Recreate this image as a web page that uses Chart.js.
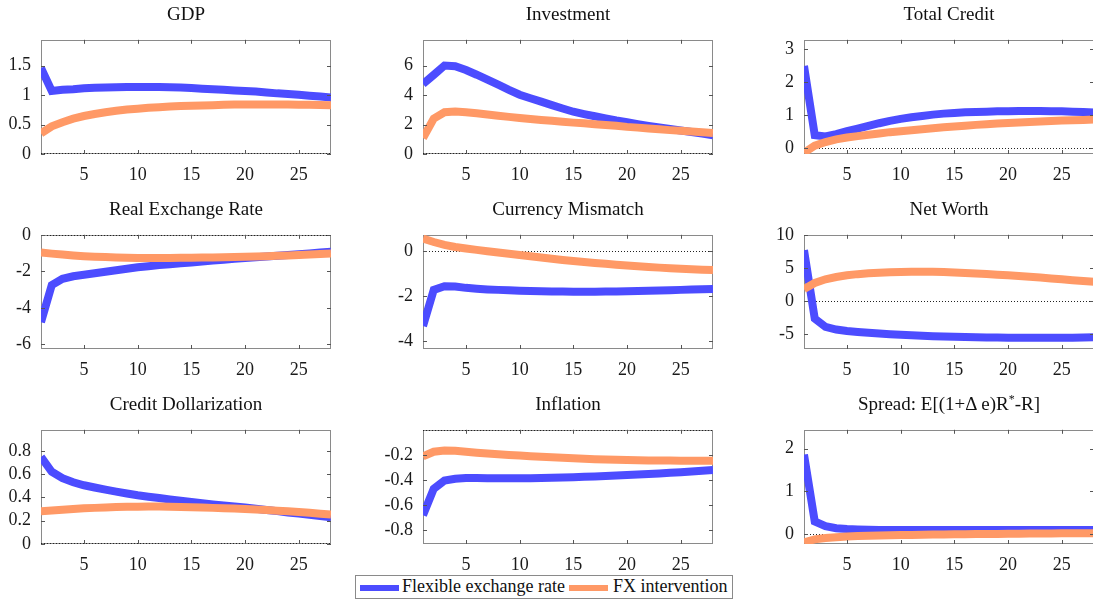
<!DOCTYPE html>
<html><head><meta charset="utf-8">
<script src="https://cdn.jsdelivr.net/npm/chart.js@4.4.1/dist/chart.umd.min.js"></script>
<style>
html,body{margin:0;padding:0;background:#fff;overflow:hidden;width:1093px;height:602px;position:relative;}
canvas{position:absolute;}
.ttl{position:absolute;font-family:'Liberation Serif',serif;font-size:19px;color:#111;text-align:center;white-space:nowrap;line-height:20px;}
.ttl sup{font-size:12px;line-height:0;vertical-align:7px;}
#legend{position:absolute;left:355px;top:575px;width:376px;height:22px;border:1px solid #8a8a8a;background:#fff;font-family:'Liberation Serif',serif;font-size:18px;color:#111;}
#legend .ln{position:absolute;top:9px;height:6px;width:39px;}
#legend .tx{position:absolute;top:0px;line-height:21px;white-space:nowrap;}
</style></head><body>
<div id="legend">
  <span class="ln" style="left:4px;background:#4C4CFF"></span><span class="tx" style="left:46px">Flexible exchange rate</span>
  <span class="ln" style="left:213px;background:#FF9966"></span><span class="tx" style="left:257px">FX intervention</span>
</div>
<script>
// ---------- data ----------
const periods = [1,2,3,4,5,6,7,8,9,10,11,12,13,14,15,16,17,18,19,20,21,22,23,24,25,26,27,28];
const xTicks = [5,10,15,20,25];
const seriesNames = ["Flexible exchange rate","FX intervention"];
const titles = ["GDP","Investment","Total Credit","Real Exchange Rate","Currency Mismatch","Net Worth","Credit Dollarization","Inflation","Spread: E[(1+\u0394 e)R<sup>*</sup>-R]"];

const gdpFlex = [1.46,1.07,1.09,1.10,1.115,1.125,1.13,1.135,1.14,1.14,1.14,1.14,1.135,1.13,1.12,1.11,1.10,1.09,1.08,1.07,1.06,1.045,1.03,1.02,1.005,0.99,0.975,0.96];
const gdpFx   = [0.35,0.47,0.54,0.60,0.645,0.68,0.71,0.735,0.755,0.77,0.785,0.795,0.805,0.815,0.82,0.825,0.83,0.835,0.84,0.842,0.843,0.843,0.842,0.84,0.838,0.835,0.832,0.828];
const gdpYTicks = [0,0.5,1,1.5];

const invFlex = [4.75,5.37,6.0,5.96,5.70,5.38,5.04,4.70,4.35,4.02,3.78,3.55,3.32,3.09,2.87,2.71,2.56,2.41,2.27,2.15,2.03,1.91,1.80,1.70,1.60,1.49,1.38,1.27];
const invFx   = [1.08,2.40,2.83,2.88,2.84,2.76,2.68,2.60,2.52,2.44,2.37,2.31,2.25,2.19,2.13,2.08,2.02,1.97,1.92,1.84,1.79,1.73,1.68,1.62,1.57,1.52,1.47,1.42];
const invYTicks = [0,2,4,6];

const credFlex = [2.49,0.40,0.36,0.43,0.52,0.60,0.68,0.76,0.83,0.89,0.94,0.98,1.02,1.05,1.07,1.09,1.10,1.11,1.12,1.125,1.13,1.13,1.13,1.125,1.12,1.11,1.10,1.08];
const credFx   = [-0.13,0.08,0.19,0.27,0.33,0.37,0.41,0.45,0.49,0.52,0.55,0.58,0.61,0.64,0.66,0.685,0.71,0.73,0.75,0.77,0.785,0.80,0.815,0.83,0.84,0.85,0.86,0.87];
const credYTicks = [0,1,2,3];

const rerFlex = [-4.78,-2.75,-2.41,-2.27,-2.19,-2.10,-2.02,-1.94,-1.86,-1.78,-1.72,-1.66,-1.61,-1.56,-1.51,-1.46,-1.41,-1.36,-1.31,-1.27,-1.23,-1.19,-1.15,-1.11,-1.07,-1.02,-0.97,-0.93];
const rerFx   = [-0.97,-1.03,-1.08,-1.13,-1.17,-1.20,-1.22,-1.24,-1.26,-1.27,-1.27,-1.27,-1.27,-1.26,-1.25,-1.245,-1.24,-1.23,-1.215,-1.20,-1.185,-1.17,-1.15,-1.13,-1.10,-1.08,-1.055,-1.03];
const rerYTicks = [-6,-4,-2,0];

const cmFlex = [-3.34,-1.73,-1.57,-1.58,-1.64,-1.68,-1.71,-1.73,-1.75,-1.77,-1.78,-1.79,-1.80,-1.805,-1.81,-1.81,-1.81,-1.805,-1.80,-1.79,-1.78,-1.77,-1.76,-1.745,-1.73,-1.715,-1.70,-1.69];
const cmFx   = [0.55,0.40,0.27,0.18,0.11,0.05,-0.01,-0.07,-0.12,-0.18,-0.235,-0.29,-0.345,-0.40,-0.45,-0.49,-0.53,-0.57,-0.61,-0.65,-0.68,-0.71,-0.74,-0.765,-0.79,-0.81,-0.83,-0.85];
const cmYTicks = [-4,-2,0];

const nwFlex = [7.67,-2.70,-3.95,-4.35,-4.56,-4.72,-4.85,-4.96,-5.06,-5.15,-5.22,-5.29,-5.35,-5.41,-5.46,-5.50,-5.53,-5.55,-5.57,-5.58,-5.59,-5.60,-5.60,-5.60,-5.59,-5.58,-5.56,-5.53];
const nwFx   = [1.77,2.70,3.26,3.60,3.86,4.04,4.17,4.26,4.33,4.37,4.40,4.42,4.40,4.35,4.28,4.21,4.14,4.06,3.96,3.86,3.75,3.64,3.52,3.39,3.26,3.13,3.00,2.88];
const nwYTicks = [-5,0,5,10];

const cdFlex = [0.747,0.62,0.565,0.53,0.504,0.485,0.467,0.449,0.433,0.418,0.406,0.394,0.382,0.371,0.36,0.35,0.34,0.331,0.322,0.313,0.303,0.292,0.282,0.271,0.261,0.251,0.24,0.23];
const cdFx   = [0.282,0.287,0.293,0.300,0.306,0.310,0.314,0.317,0.319,0.32,0.321,0.321,0.32,0.318,0.316,0.313,0.310,0.307,0.304,0.300,0.296,0.291,0.286,0.281,0.275,0.268,0.26,0.252];
const cdYTicks = [0,0.2,0.4,0.6,0.8];

const infFlex = [-0.68,-0.47,-0.405,-0.39,-0.385,-0.385,-0.386,-0.387,-0.387,-0.387,-0.386,-0.385,-0.383,-0.381,-0.378,-0.375,-0.372,-0.369,-0.365,-0.361,-0.357,-0.353,-0.348,-0.343,-0.338,-0.332,-0.326,-0.32];
const infFx   = [-0.212,-0.175,-0.165,-0.167,-0.175,-0.182,-0.189,-0.195,-0.20,-0.205,-0.21,-0.215,-0.219,-0.223,-0.227,-0.231,-0.234,-0.237,-0.239,-0.241,-0.243,-0.244,-0.245,-0.245,-0.246,-0.246,-0.246,-0.246];
const infYTicks = [-0.8,-0.6,-0.4,-0.2];

const spFlex = [1.86,0.29,0.18,0.13,0.11,0.10,0.095,0.09,0.09,0.09,0.09,0.09,0.09,0.09,0.09,0.09,0.09,0.09,0.09,0.09,0.09,0.09,0.09,0.09,0.09,0.09,0.09,0.09];
const spFx   = [-0.20,-0.13,-0.10,-0.08,-0.065,-0.055,-0.047,-0.04,-0.035,-0.03,-0.026,-0.022,-0.019,-0.016,-0.013,-0.01,-0.008,-0.005,-0.003,0.0,0.002,0.004,0.006,0.008,0.01,0.012,0.014,0.015];
const spYTicks = [0,1,2];

// ---------- panels (axis limits & ticks) ----------
const panels = [
  {flex:gdpFlex, fx:gdpFx, yt:gdpYTicks, min:0, max:1.94},
  {flex:invFlex, fx:invFx, yt:invYTicks, min:0, max:7.75},
  {flex:credFlex, fx:credFx, yt:credYTicks, min:-0.17, max:3.28},
  {flex:rerFlex, fx:rerFx, yt:rerYTicks, min:-6.25, max:0},
  {flex:cmFlex, fx:cmFx, yt:cmYTicks, min:-4.36, max:0.72},
  {flex:nwFlex, fx:nwFx, yt:nwYTicks, min:-7.3, max:10},
  {flex:cdFlex, fx:cdFx, yt:cdYTicks, min:0, max:0.98},
  {flex:infFlex, fx:infFx, yt:infYTicks, min:-0.91, max:0},
  {flex:spFlex, fx:spFx, yt:spYTicks, min:-0.24, max:2.44}
];

// ---------- layout ----------
const colLeft = [41, 423, 804];
const rowTop = [29, 224, 419];
const plotW = 290, plotH = 125;
const YAXW = 45, XAXH = 35, PADT = 10, PADR = 6;
const BLUE = '#4C4CFF', ORANGE = '#FF9966';
const FAMILY = "'Liberation Serif', serif";

const boxPlugin = {
  id:'mbox',
  beforeDatasetsDraw(chart){
    const {ctx, chartArea:a, scales} = chart;
    ctx.save();
    ctx.strokeStyle = '#8a8a8a'; ctx.lineWidth = 1;
    ctx.strokeRect(Math.round(a.left)+0.5, Math.round(a.top)+0.5, Math.round(a.right-a.left)-1, Math.round(a.bottom-a.top)-1);
    const y0 = scales.y.getPixelForValue(0);
    if (y0 >= a.top-1 && y0 <= a.bottom+1) {
      const yy = Math.min(Math.max(Math.round(y0), Math.round(a.top)), Math.round(a.bottom)-1) + 0.5;
      ctx.strokeStyle = '#222'; ctx.setLineDash([1,2]);
      ctx.beginPath(); ctx.moveTo(a.left, yy); ctx.lineTo(a.right, yy); ctx.stroke();
    }
    ctx.restore();
  },
  afterDatasetsDraw(chart){
    const {ctx, chartArea:a, scales} = chart;
    ctx.save();
    ctx.strokeStyle = '#555'; ctx.lineWidth = 1;
    ctx.beginPath();
    scales.x.ticks.forEach(t => {
      const x = Math.round(scales.x.getPixelForValue(t.value)) + 0.5;
      ctx.moveTo(x, a.bottom); ctx.lineTo(x, a.bottom-4);
      ctx.moveTo(x, a.top); ctx.lineTo(x, a.top+4);
    });
    scales.y.ticks.forEach(t => {
      const y = Math.round(scales.y.getPixelForValue(t.value)) + 0.5;
      ctx.moveTo(a.left, y); ctx.lineTo(a.left+4, y);
      ctx.moveTo(a.right, y); ctx.lineTo(a.right-4, y);
    });
    ctx.stroke();
    ctx.restore();
  }
};

panels.forEach((p, i) => {
  const col = i % 3, row = Math.floor(i / 3);
  const L = colLeft[col], T = rowTop[row];
  const cv = document.createElement('canvas');
  const W = plotW + YAXW + PADR, H = plotH + PADT + XAXH;
  cv.width = W; cv.height = H;
  cv.style.left = (L - YAXW) + 'px'; cv.style.top = (T - PADT) + 'px';
  cv.style.width = W + 'px'; cv.style.height = H + 'px';
  document.body.appendChild(cv);

  const t = document.createElement('div');
  t.className = 'ttl';
  t.innerHTML = titles[i];
  t.style.left = L + 'px'; t.style.width = plotW + 'px';
  t.style.top = (T - 25) + 'px';
  document.body.appendChild(t);

  new Chart(cv, {
    type: 'line',
    data: {
      datasets: [
        {label: seriesNames[0], data: periods.map((x,k)=>({x, y:p.flex[k]})), borderColor: BLUE, borderWidth: 8, pointRadius: 0, tension: 0, order: 1},
        {label: seriesNames[1], data: periods.map((x,k)=>({x, y:p.fx[k]})), borderColor: ORANGE, borderWidth: 8, pointRadius: 0, tension: 0, order: 0}
      ]
    },
    options: {
      responsive: false, animation: false, devicePixelRatio: 1,
      layout: {padding: {top: PADT, right: PADR, left: 0, bottom: 0}},
      plugins: {legend: {display: false}, tooltip: {enabled: false}, title: {display: false}},
      scales: {
        x: {
          type: 'linear', min: 1, max: 28,
          afterBuildTicks: s => { s.ticks = xTicks.map(v => ({value: v})); },
          afterFit: s => { s.height = XAXH; },
          grid: {display: false, drawTicks: false}, border: {display: false},
          ticks: {font: {family: FAMILY, size: 18}, color: '#1a1a1a', padding: 10, maxRotation: 0, autoSkip: false}
        },
        y: {
          type: 'linear', min: p.min, max: p.max,
          afterBuildTicks: s => { s.ticks = p.yt.map(v => ({value: v})); },
          afterFit: s => { s.width = YAXW; },
          grid: {display: false, drawTicks: false}, border: {display: false},
          ticks: {font: {family: FAMILY, size: 18}, color: '#1a1a1a', padding: 10, autoSkip: false, callback: v => String(v)}
        }
      }
    },
    plugins: [boxPlugin]
  });
});
</script>
</body></html>
